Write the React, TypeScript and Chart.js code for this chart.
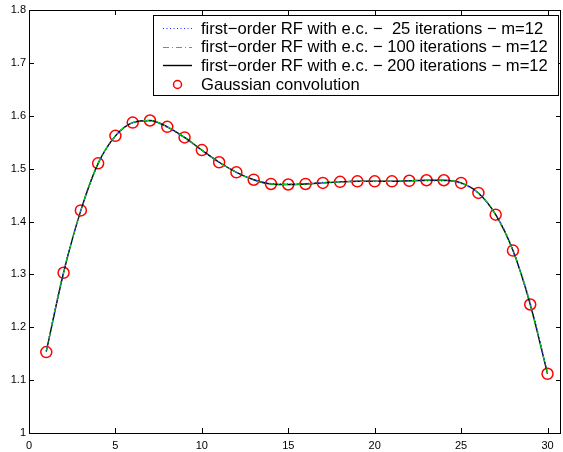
import React, { useEffect, useRef } from "react";
import { Chart, registerables } from "chart.js";
Chart.register(...registerables);

const xValues = [1, 2, 3, 4, 5, 6, 7, 8, 9, 10, 11, 12, 13, 14, 15, 16, 17, 18, 19, 20, 21, 22, 23, 24, 25, 26, 27, 28, 29, 30];
const gaussianConv = [1.153, 1.303, 1.421, 1.510, 1.562, 1.587, 1.591, 1.579, 1.559, 1.535, 1.512, 1.493, 1.479, 1.471, 1.470, 1.471, 1.473, 1.475, 1.476, 1.476, 1.476, 1.477, 1.478, 1.478, 1.473, 1.454, 1.413, 1.345, 1.243, 1.112];
const rf25 = [1.156, 1.305, 1.422, 1.509, 1.561, 1.587, 1.590, 1.578, 1.558, 1.535, 1.512, 1.493, 1.479, 1.472, 1.471, 1.472, 1.474, 1.475, 1.476, 1.476, 1.476, 1.477, 1.477, 1.477, 1.472, 1.453, 1.414, 1.347, 1.246, 1.115];
const rf100 = [1.155, 1.304, 1.421, 1.510, 1.562, 1.587, 1.591, 1.579, 1.559, 1.535, 1.512, 1.493, 1.479, 1.471, 1.470, 1.471, 1.473, 1.475, 1.476, 1.476, 1.476, 1.477, 1.478, 1.478, 1.473, 1.454, 1.413, 1.345, 1.244, 1.113];
const rf200 = [1.154, 1.303, 1.421, 1.510, 1.562, 1.587, 1.591, 1.579, 1.559, 1.535, 1.512, 1.493, 1.479, 1.471, 1.470, 1.471, 1.473, 1.475, 1.476, 1.476, 1.476, 1.477, 1.478, 1.478, 1.473, 1.454, 1.413, 1.345, 1.243, 1.112];
const xTicks = [0, 5, 10, 15, 20, 25, 30];
const yTicks = [1, 1.1, 1.2, 1.3, 1.4, 1.5, 1.6, 1.7, 1.8];
const legendLabels = [
  "first\u2212order RF with e.c. \u2212  25 iterations \u2212 m=12",
  "first\u2212order RF with e.c. \u2212 100 iterations \u2212 m=12",
  "first\u2212order RF with e.c. \u2212 200 iterations \u2212 m=12",
  "Gaussian convolution",
];

const FONT = "'Liberation Sans', Arial, Helvetica, sans-serif";

const boxPlugin = {
  id: "matlabBox",
  afterDatasetsDraw(chart: any) {
    const { ctx, chartArea: a, scales } = chart;
    ctx.save();
    ctx.strokeStyle = "#000";
    ctx.lineWidth = 1;
    ctx.strokeRect(Math.round(a.left) + 0.5, Math.round(a.top) + 0.5, Math.round(a.right - a.left) - 1, Math.round(a.bottom - a.top));
    const tl = 5;
    ctx.beginPath();
    for (const t of xTicks) {
      const px = Math.round(scales.x.getPixelForValue(t)) + 0.5;
      if (px <= a.left + 1) continue;
      ctx.moveTo(px, a.bottom);
      ctx.lineTo(px, a.bottom - tl);
      ctx.moveTo(px, a.top);
      ctx.lineTo(px, a.top + tl);
    }
    for (const t of yTicks) {
      const py = Math.round(scales.y.getPixelForValue(t)) + 0.5;
      ctx.moveTo(a.left, py);
      ctx.lineTo(a.left + tl, py);
      ctx.moveTo(a.right, py);
      ctx.lineTo(a.right - tl, py);
    }
    ctx.stroke();
    ctx.restore();
  },
};

const legendPlugin = {
  id: "matlabLegend",
  afterDraw(chart: any) {
    const { ctx } = chart;
    const ds = chart.data.datasets;
    const x0 = 153.5, y0 = 15.5, w = 405, h = 80;
    ctx.save();
    ctx.fillStyle = "#fff";
    ctx.fillRect(x0, y0, w, h);
    ctx.strokeStyle = "#000";
    ctx.lineWidth = 1;
    ctx.strokeRect(x0, y0, w, h);
    const rows = [28, 46.7, 65.3, 84];
    ctx.font = `16.6px ${FONT}`;
    ctx.textBaseline = "middle";
    ctx.textAlign = "left";
    ds.forEach((d: any, i: number) => {
      const y = Math.round(rows[i]) + 0.5;
      if (d.showLine !== false) {
        ctx.beginPath();
        ctx.setLineDash(d.borderDash || []);
        ctx.strokeStyle = d.borderColor;
        ctx.lineWidth = d.borderWidth;
        ctx.moveTo(163, y);
        ctx.lineTo(192, y);
        ctx.stroke();
        ctx.setLineDash([]);
      } else {
        ctx.beginPath();
        ctx.strokeStyle = d.pointBorderColor;
        ctx.lineWidth = 1.5;
        ctx.arc(177.5, y, 4, 0, Math.PI * 2);
        ctx.stroke();
      }
      ctx.fillStyle = "#000";
      ctx.fillText(legendLabels[i], 201, rows[i] + 1);
    });
    ctx.restore();
  },
};

export default function App() {
  const ref = useRef<HTMLCanvasElement>(null);
  useEffect(() => {
    document.body.style.margin = "0";
    const toPts = (arr: number[]) => arr.map((v, i) => ({ x: xValues[i], y: v }));
    const chart = new Chart(ref.current!, {
      type: "line",
      data: {
        datasets: [
          { label: legendLabels[0], data: toPts(rf25), borderColor: "rgb(40,40,255)", borderWidth: 1.2, borderDash: [1, 2.5], pointRadius: 0, cubicInterpolationMode: "monotone", fill: false },
          { label: legendLabels[1], data: toPts(rf100), borderColor: "rgb(0,230,0)", borderWidth: 1.2, borderDash: [6, 3, 1, 3], pointRadius: 0, cubicInterpolationMode: "monotone", fill: false },
          { label: legendLabels[2], data: toPts(rf200), borderColor: "#000", borderWidth: 1.4, pointRadius: 0, cubicInterpolationMode: "monotone", fill: false },
          { label: legendLabels[3], data: toPts(gaussianConv), showLine: false, pointRadius: 5.5, pointBorderWidth: 1.5, pointBorderColor: "rgb(255,0,0)", pointBackgroundColor: "rgba(0,0,0,0)", borderColor: "rgb(255,0,0)" },
        ] as any,
      },
      options: {
        responsive: false,
        animation: false,
        events: [],
        layout: { autoPadding: false, padding: { top: 10, right: 2, left: 0, bottom: 0 } },
        plugins: { legend: { display: false }, tooltip: { enabled: false } },
        scales: {
          x: {
            type: "linear",
            min: 0,
            max: 30.78,
            grid: { display: false, drawTicks: false },
            border: { display: false },
            afterBuildTicks: (s: any) => { s.ticks = xTicks.map((v) => ({ value: v })); },
            afterFit: (s: any) => { s.height = 19; s.paddingRight = 0; s.paddingLeft = 0; },
            ticks: { color: "#000", font: { family: FONT, size: 11 }, padding: 6, maxRotation: 0, callback: (v: any) => String(v) },
          },
          y: {
            type: "linear",
            min: 1,
            max: 1.8,
            grid: { display: false, drawTicks: false },
            border: { display: false },
            afterBuildTicks: (s: any) => { s.ticks = yTicks.map((v) => ({ value: v })); },
            afterFit: (s: any) => { s.width = 29; s.paddingTop = 0; s.paddingBottom = 0; },
            ticks: { color: "#000", font: { family: FONT, size: 11 }, padding: 3, callback: (v: any) => String(Math.round(v * 10) / 10) },
          },
        },
      } as any,
      plugins: [boxPlugin, legendPlugin],
    });
    return () => chart.destroy();
  }, []);
  return <canvas ref={ref} width={563} height={452} style={{ display: "block" }} />;
}
